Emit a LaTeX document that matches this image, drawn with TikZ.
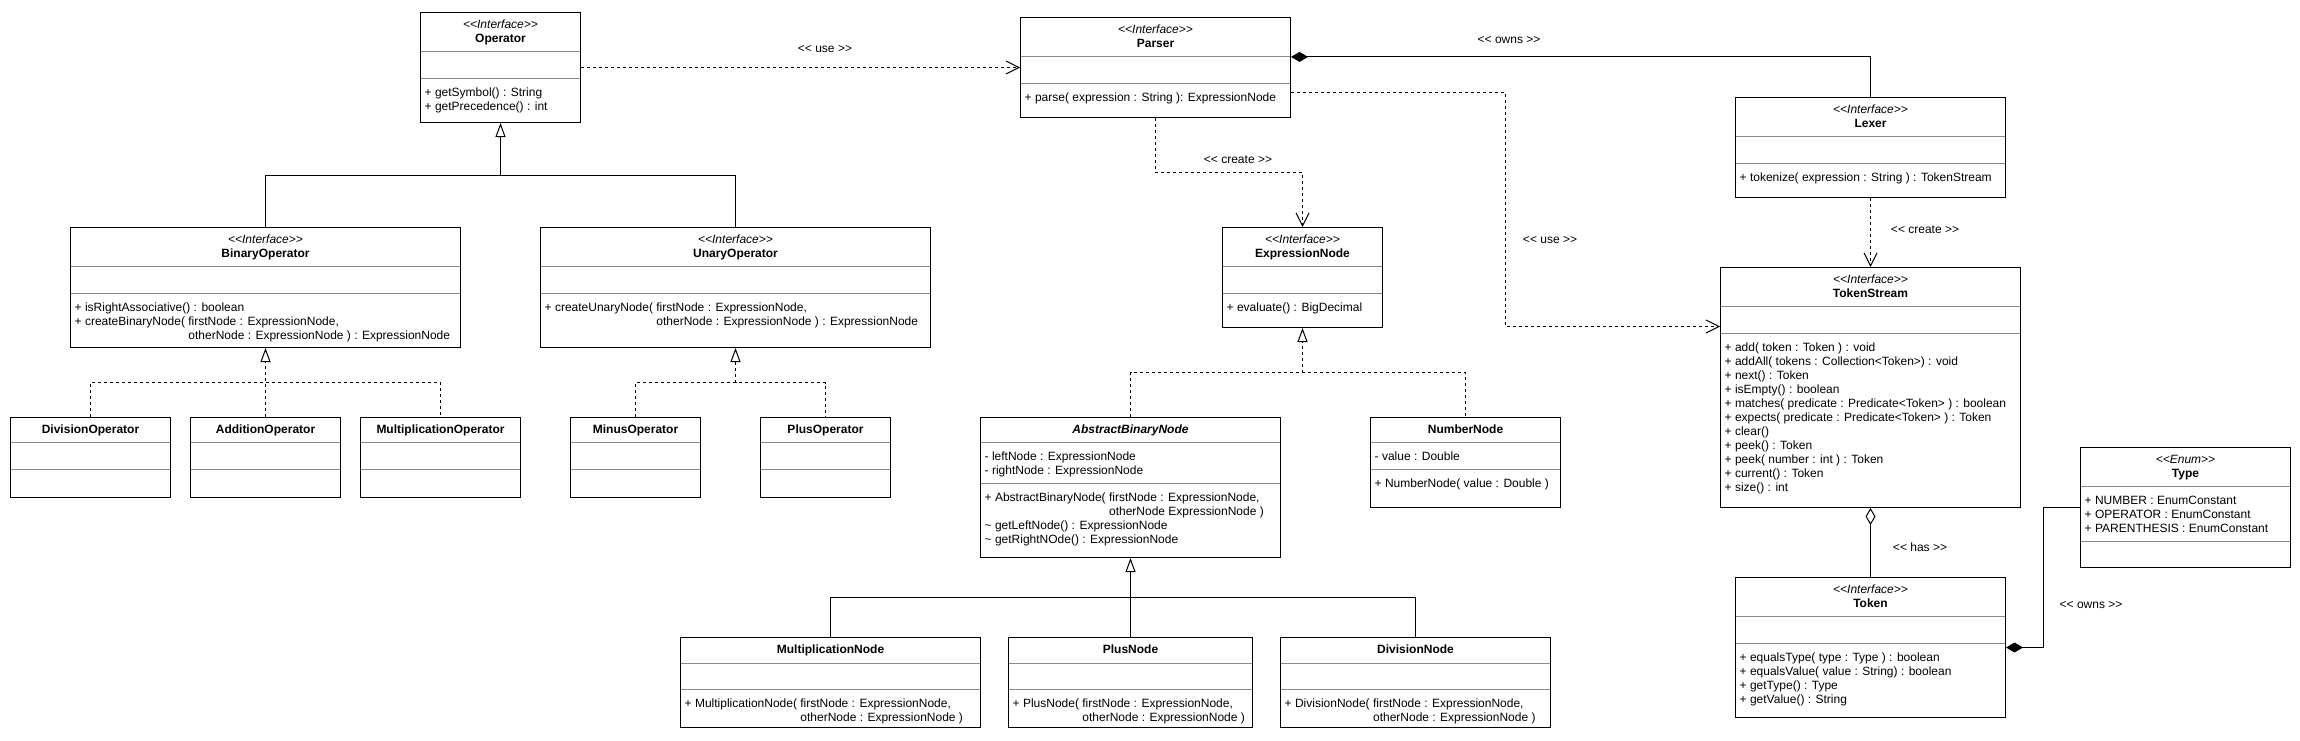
\documentclass[tikz,border=0pt]{standalone}
\usepackage{fontspec}
\setmainfont{Liberation Sans}[Ligatures=TeXOff]
\usetikzlibrary{arrows.meta,fit}
\newcommand\fs{\fontsize{12pt}{14pt}\selectfont}
\newcommand\ubox[7]{%
  \node[box, fit={(#2,#3) (#4,#5)}] (#1) {};
  \draw[sepl] (#2+0.5,#6) -- (#4-0.5,#6);
  \draw[sepl] (#2+0.5,#7) -- (#4-0.5,#7);
}
\newcommand\utitle[4]{\node[txt,anchor=base] (#1) at (#2,#3) {#4};}
\newcommand\uline[4]{\node[txt,anchor=base west] (#1) at (#2+4,#3) {#4};}
\newcommand\lbl[4]{\node[txt,anchor=base] (#1) at (#2,#3) {#4};}
\tikzset{
  box/.style={draw, line width=1pt, inner sep=0pt},
  sepl/.style={draw=black!45, line width=1pt},
  txt/.style={inner sep=0pt, font=\fs},
  dep/.style={line width=1pt, dash pattern=on 3pt off 3pt, -{Straight Barb[length=13pt,width=13pt]}},
  dashl/.style={line width=1pt, dash pattern=on 3pt off 3pt},
  plainl/.style={line width=1pt},
  gen/.style={line width=1pt, -{Triangle[length=14pt,width=10pt,fill=white]}},
  realz/.style={gen, dash pattern=on 3pt off 3pt},
  compo/.style={line width=1pt, -{Diamond[length=17pt,width=10pt,fill=black]}},
  aggr/.style={line width=1pt, -{Diamond[length=17pt,width=10pt,fill=white]}},
}
\begin{document}
\begin{tikzpicture}[x=1pt,y=-1pt]
\useasboundingbox[fill=white] (0,0) rectangle (2300,740);

% ---------- boxes ----------
\ubox{op}{420.5}{12.5}{580.5}{122.5}{51.9}{78.5}
\utitle{op-s}{500.5}{28.8}{\textit{<<Interface>>}}
\utitle{op-n}{500.5}{42.8}{\textbf{Operator}}
\uline{op-m1}{420.5}{96.8}{+ getSymbol() : String}
\uline{op-m2}{420.5}{110.8}{+ getPrecedence() : int}

\ubox{parser}{1020.5}{17.5}{1290.5}{117.5}{56.9}{83.5}
\utitle{parser-s}{1155.5}{33.8}{\textit{<<Interface>>}}
\utitle{parser-n}{1155.5}{47.8}{\textbf{Parser}}
\uline{parser-m1}{1020.5}{101.8}{+ parse( expression : String ): ExpressionNode}

\ubox{lexer}{1735.5}{97.5}{2005.5}{197.5}{136.9}{163.5}
\utitle{lexer-s}{1870.5}{113.8}{\textit{<<Interface>>}}
\utitle{lexer-n}{1870.5}{127.8}{\textbf{Lexer}}
\uline{lexer-m1}{1735.5}{181.8}{+ tokenize( expression : String ) : TokenStream}

\ubox{binop}{70.5}{227.5}{460.5}{347.5}{266.9}{293.5}
\utitle{binop-s}{265.5}{243.8}{\textit{<<Interface>>}}
\utitle{binop-n}{265.5}{257.8}{\textbf{BinaryOperator}}
\uline{binop-m1}{70.5}{311.8}{+ isRightAssociative() : boolean}
\uline{binop-m2}{70.5}{325.8}{+ createBinaryNode( firstNode : ExpressionNode,}
\uline{binop-m3}{70.5}{339.8}{\phantom{+ createBinaryNode( }otherNode : ExpressionNode ) : ExpressionNode}

\ubox{unop}{540.5}{227.5}{930.5}{347.5}{266.9}{293.5}
\utitle{unop-s}{735.5}{243.8}{\textit{<<Interface>>}}
\utitle{unop-n}{735.5}{257.8}{\textbf{UnaryOperator}}
\uline{unop-m1}{540.5}{311.8}{+ createUnaryNode( firstNode : ExpressionNode,}
\uline{unop-m2}{540.5}{325.8}{\phantom{+ createUnaryNode( }otherNode : ExpressionNode ) : ExpressionNode}

\ubox{expr}{1222.5}{227.5}{1382.5}{327.5}{266.9}{293.5}
\utitle{expr-s}{1302.5}{243.8}{\textit{<<Interface>>}}
\utitle{expr-n}{1302.5}{257.8}{\textbf{ExpressionNode}}
\uline{expr-m1}{1222.5}{311.8}{+ evaluate() : BigDecimal}

\ubox{tstream}{1720.5}{267.5}{2020.5}{507.5}{306.9}{333.5}
\utitle{tstream-s}{1870.5}{283.8}{\textit{<<Interface>>}}
\utitle{tstream-n}{1870.5}{297.8}{\textbf{TokenStream}}
\uline{ts-m1}{1720.5}{351.8}{+ add( token : Token ) : void}
\uline{ts-m2}{1720.5}{365.8}{+ addAll( tokens : Collection<Token>) : void}
\uline{ts-m3}{1720.5}{379.8}{+ next() : Token}
\uline{ts-m4}{1720.5}{393.8}{+ isEmpty() : boolean}
\uline{ts-m5}{1720.5}{407.8}{+ matches( predicate : Predicate<Token> ) : boolean}
\uline{ts-m6}{1720.5}{421.8}{+ expects( predicate : Predicate<Token> ) : Token}
\uline{ts-m7}{1720.5}{435.8}{+ clear()}
\uline{ts-m8}{1720.5}{449.8}{+ peek() : Token}
\uline{ts-m9}{1720.5}{463.8}{+ peek( number : int ) : Token}
\uline{ts-m10}{1720.5}{477.8}{+ current() : Token}
\uline{ts-m11}{1720.5}{491.8}{+ size() : int}

\ubox{divop}{10.5}{417.5}{170.5}{497.5}{442.5}{469.5}
\utitle{divop-n}{90.5}{433.8}{\textbf{DivisionOperator}}
\ubox{addop}{190.5}{417.5}{340.5}{497.5}{442.5}{469.5}
\utitle{addop-n}{265.5}{433.8}{\textbf{AdditionOperator}}
\ubox{mulop}{360.5}{417.5}{520.5}{497.5}{442.5}{469.5}
\utitle{mulop-n}{440.5}{433.8}{\textbf{MultiplicationOperator}}
\ubox{minusop}{570.5}{417.5}{700.5}{497.5}{442.5}{469.5}
\utitle{minusop-n}{635.5}{433.8}{\textbf{MinusOperator}}
\ubox{plusop}{760.5}{417.5}{890.5}{497.5}{442.5}{469.5}
\utitle{plusop-n}{825.5}{433.8}{\textbf{PlusOperator}}

\ubox{abn}{980.5}{417.5}{1280.5}{557.5}{442.5}{483.5}
\utitle{abn-n}{1130.5}{433.8}{\textbf{\textit{AbstractBinaryNode}}}
\uline{abn-a1}{980.5}{460.8}{- leftNode : ExpressionNode}
\uline{abn-a2}{980.5}{474.8}{- rightNode : ExpressionNode}
\uline{abn-m1}{980.5}{501.8}{+ AbstractBinaryNode( firstNode : ExpressionNode,}
\uline{abn-m2}{980.5}{515.8}{\phantom{+ AbstractBinaryNode( }otherNode ExpressionNode )}
\uline{abn-m3}{980.5}{529.8}{\textasciitilde{} getLeftNode() : ExpressionNode}
\uline{abn-m4}{980.5}{543.8}{\textasciitilde{} getRightNOde() : ExpressionNode}

\ubox{numnode}{1370.5}{417.5}{1560.5}{507.5}{442.5}{469.5}
\utitle{numnode-n}{1465.5}{433.8}{\textbf{NumberNode}}
\uline{numnode-a1}{1370.5}{460.8}{- value : Double}
\uline{numnode-m1}{1370.5}{487.8}{+ NumberNode( value : Double )}

\ubox{type}{2080.5}{447.5}{2290.5}{567.5}{486.9}{541.5}
\utitle{type-s}{2185.5}{463.8}{\textit{<<Enum>>}}
\utitle{type-n}{2185.5}{477.8}{\textbf{Type}}
\uline{type-a1}{2080.5}{504.8}{+ NUMBER : EnumConstant}
\uline{type-a2}{2080.5}{518.8}{+ OPERATOR : EnumConstant}
\uline{type-a3}{2080.5}{532.8}{+ PARENTHESIS : EnumConstant}

\ubox{token}{1735.5}{577.5}{2005.5}{717.5}{616.9}{643.5}
\utitle{token-s}{1870.5}{593.8}{\textit{<<Interface>>}}
\utitle{token-n}{1870.5}{607.8}{\textbf{Token}}
\uline{token-m1}{1735.5}{661.8}{+ equalsType( type : Type ) : boolean}
\uline{token-m2}{1735.5}{675.8}{+ equalsValue( value : String) : boolean}
\uline{token-m3}{1735.5}{689.8}{+ getType() : Type}
\uline{token-m4}{1735.5}{703.8}{+ getValue() : String}

\ubox{multnode}{680.5}{637.5}{980.5}{727.5}{663.5}{689.5}
\utitle{multnode-n}{830.5}{653.8}{\textbf{MultiplicationNode}}
\uline{multnode-m1}{680.5}{707.8}{+ MultiplicationNode( firstNode : ExpressionNode,}
\uline{multnode-m2}{680.5}{721.8}{\phantom{+ MultiplicationNode( }otherNode : ExpressionNode )}

\ubox{plusnode}{1008.5}{637.5}{1252.5}{727.5}{663.5}{689.5}
\utitle{plusnode-n}{1130.5}{653.8}{\textbf{PlusNode}}
\uline{plusnode-m1}{1008.5}{707.8}{+ PlusNode( firstNode : ExpressionNode,}
\uline{plusnode-m2}{1008.5}{721.8}{\phantom{+ PlusNode( }otherNode : ExpressionNode )}

\ubox{divnode}{1280.5}{637.5}{1550.5}{727.5}{663.5}{689.5}
\utitle{divnode-n}{1415.5}{653.8}{\textbf{DivisionNode}}
\uline{divnode-m1}{1280.5}{707.8}{+ DivisionNode( firstNode : ExpressionNode,}
\uline{divnode-m2}{1280.5}{721.8}{\phantom{+ DivisionNode( }otherNode : ExpressionNode )}

% ---------- junction coordinates ----------
\coordinate (jop) at (500.5,175.5);
\coordinate (jbin) at (265.5,382.5);
\coordinate (jun) at (735.5,382.5);
\coordinate (jex) at (1302.5,372.5);
\coordinate (jab) at (1130.5,597.5);
\coordinate (jcr) at (1302.5,172.5);
\coordinate (ownY) at (0,56.9);
\coordinate (useY1) at (0,92.5);
\coordinate (useX) at (1505.5,0);
\coordinate (useY2) at (0,326.5);
\coordinate (owX) at (2043,0);

% ---------- generalizations ----------
\draw[gen] (binop.north) |- (jop) -- (op.south);
\draw[plainl] (unop.north) |- (jop);

\draw[gen] (plusnode.north) -- (abn.south);
\draw[plainl] (multnode.north) |- (jab) -| (divnode.north);

% ---------- realizations ----------
\draw[realz] (addop.north) -- (binop.south);
\draw[dashl] (divop.north) |- (jbin) -| (mulop.north);

\draw[realz] (jun) -- (unop.south);
\draw[dashl] (minusop.north) |- (jun) -| (plusop.north);

\draw[realz] (jex) -- (expr.south);
\draw[dashl] (abn.north) |- (jex) -| (numnode.north);

% ---------- dependencies ----------
\draw[dep] (op.east) -- (op.east -| parser.west);
\draw[dep] (parser.south) |- (jcr) -- (expr.north);
\draw[dep] (parser.east |- useY1) -| (useX |- useY2) -- (tstream.west |- useY2);
\draw[dep] (lexer.south) -- (tstream.north);

% ---------- compositions / aggregation ----------
\draw[compo] (lexer.north) |- (parser.east |- ownY);
\draw[aggr] (token.north) -- (tstream.south);
\draw[compo] (type.west) -| (owX |- token.east) -- (token.east);

% ---------- labels ----------
\lbl{l-use1}{825}{52.3}{<< use >>}
\lbl{l-create1}{1238}{163.3}{<< create >>}
\lbl{l-owns1}{1509}{43.3}{<< owns >>}
\lbl{l-use2}{1550}{243.3}{<< use >>}
\lbl{l-create2}{1925}{233.3}{<< create >>}
\lbl{l-has}{1920}{551.7}{<< has >>}
\lbl{l-owns2}{2091}{608}{<< owns >>}
\end{tikzpicture}
\end{document}
